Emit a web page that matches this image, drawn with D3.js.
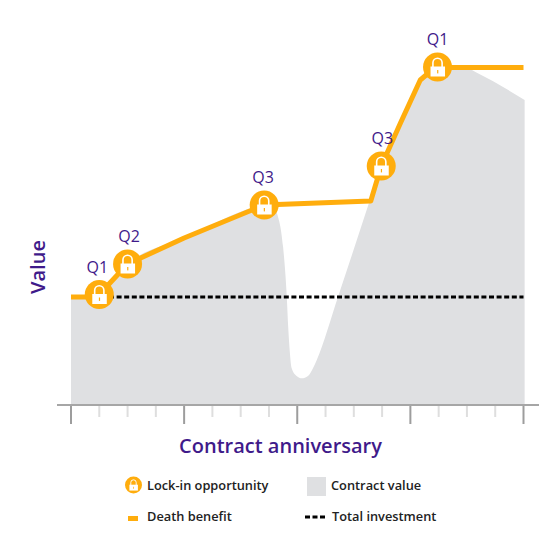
<!DOCTYPE html>
<html>
<head>
<meta charset="utf-8">
<script src="https://cdn.jsdelivr.net/npm/d3@7"></script>
<style>
    html, body { margin: 0; padding: 0; background: #fff; }
    text { font-family: "Open Sans", sans-serif; }
</style>
</head>
<body>
<div id="chart"></div>
<script>
'use strict';

var benefitQuarters = [0, 0.5, 1, 2, 4, 6.83, 10.6, 10.97, 11.65, 12.35, 12.6, 12.96, 16];
var benefitValues = [108, 108, 110.5, 141, 167, 200, 204, 239, 282, 325, 331, 337.5, 337.5];

var contractQuarters = [0, 0.5, 1, 2, 4, 6.83, 7.11, 7.28, 7.5, 7.63, 7.68, 7.74, 7.8, 7.98, 8.16, 8.38, 8.56, 8.69, 9.44, 10.57, 10.96, 11.65, 12.35, 12.6, 12.96, 14, 14.3, 16.04];
var contractValues = [108, 108, 110.5, 141, 167, 200, 201, 192, 158, 108, 78, 52, 37, 29, 26.7, 29, 37, 45, 108, 205, 239, 282, 325, 331, 337.5, 337, 333, 305];

var investmentQuarters = [0, 16];
var investmentValues = [108, 108];

var lockQuarters = [1, 2, 6.83, 10.97, 12.96];
var lockValues = [110.5, 141, 200, 239, 338];
var lockLabels = ['Q1', 'Q2', 'Q3', 'Q3', 'Q1'];

var axisTicks = d3.range(0, 17);

var ORANGE = '#ffad0d';
var GREY = '#dfe0e2';
var PURPLE = '#3f1a8a';
var INK = '#222222';

var x = d3.scaleLinear().domain([0, 16]).range([71, 523.5]);
var y = d3.scaleLinear().domain([0, 400]).range([405, 5]);

var svg = d3.select('#chart').append('svg')
    .attr('width', 560)
    .attr('height', 560)
    .style('display', 'block');

var area = d3.area()
    .x(function (d) { return x(d[0]); })
    .y0(y(0))
    .y1(function (d) { return y(d[1]); })
    .curve(d3.curveMonotoneX);

var line = d3.line()
    .x(function (d) { return x(d[0]); })
    .y(function (d) { return y(d[1]); });

svg.append('path')
    .attr('d', area(d3.zip(contractQuarters, contractValues)))
    .attr('fill', GREY);

svg.append('path')
    .attr('d', line(d3.zip(investmentQuarters, investmentValues)))
    .attr('fill', 'none')
    .attr('stroke', '#000')
    .attr('stroke-width', 3)
    .attr('stroke-dasharray', '5,2.6');

svg.append('path')
    .attr('d', line(d3.zip(benefitQuarters, benefitValues)))
    .attr('fill', 'none')
    .attr('stroke', ORANGE)
    .attr('stroke-width', 5)
    .attr('stroke-linejoin', 'round');

// axis: long ticks every 4 quarters, short pale ones between
var axis = svg.append('g').attr('transform', 'translate(0,' + y(0) + ')');

axis.selectAll('.tick-mark')
    .data(axisTicks)
    .enter()
    .append('line')
    .attr('class', 'tick-mark')
    .attr('x1', function (d) { return x(d); })
    .attr('x2', function (d) { return x(d); })
    .attr('y1', 0)
    .attr('y2', function (d) { return d % 4 === 0 ? 19 : 12; })
    .attr('stroke', function (d) { return d % 4 === 0 ? '#9d9d9d' : '#dedede'; })
    .attr('stroke-width', 2);

axis.append('line')
    .attr('x1', 57)
    .attr('x2', 539)
    .attr('stroke', '#a6a6a6')
    .attr('stroke-width', 2);

svg.append('text')
    .attr('x', 280.5)
    .attr('y', 453)
    .attr('text-anchor', 'middle')
    .attr('fill', PURPLE)
    .attr('font-size', 20)
    .attr('font-weight', 600)
    .text('Contract anniversary');

svg.append('text')
    .attr('transform', 'translate(45,267) rotate(-90)')
    .attr('text-anchor', 'middle')
    .attr('fill', PURPLE)
    .attr('font-size', 20)
    .attr('font-weight', 600)
    .text('Value');

// the labels sit a little off centre over their markers
var labelShift = [-2, 1.5, -1, 1, 0];

lockQuarters.forEach(function (q, i) {
    var px = x(q);
    var py = y(lockValues[i]);
    drawLock(px, py, 14.5);
    svg.append('text')
        .attr('x', px + labelShift[i])
        .attr('y', py - 22)
        .attr('text-anchor', 'middle')
        .attr('fill', PURPLE)
        .attr('font-size', 16)
        .text(lockLabels[i]);
});

// legend
drawLock(133.5, 485, 8.5);
legendText(147, 490, 'Lock-in opportunity');

svg.append('rect')
    .attr('x', 307)
    .attr('y', 477)
    .attr('width', 19)
    .attr('height', 19)
    .attr('fill', GREY);
legendText(331, 490, 'Contract value');

svg.append('rect')
    .attr('x', 128)
    .attr('y', 516)
    .attr('width', 10)
    .attr('height', 5)
    .attr('fill', ORANGE);
legendText(147, 521, 'Death benefit');

svg.append('line')
    .attr('x1', 305)
    .attr('x2', 325)
    .attr('y1', 517)
    .attr('y2', 517)
    .attr('stroke', '#000')
    .attr('stroke-width', 3)
    .attr('stroke-dasharray', '5,2.5');
legendText(332, 521, 'Total investment');

function legendText(px, py, label) {
    svg.append('text')
        .attr('x', px)
        .attr('y', py)
        .attr('fill', INK)
        .attr('font-size', 12.8)
        .attr('font-weight', 600)
        .text(label);
}

function drawLock(px, py, r) {
    var k = r / 14.5;
    var g = svg.append('g')
        .attr('transform', 'translate(' + px + ',' + py + ') scale(' + k + ')');

    g.append('circle')
        .attr('r', 14.5)
        .attr('fill', ORANGE);
    g.append('path')
        .attr('d', 'M-4.6,0V-4.2A4.6,4.6 0 0 1 4.6,-4.2V0')
        .attr('fill', 'none')
        .attr('stroke', '#fff')
        .attr('stroke-width', 1.6);
    g.append('rect')
        .attr('x', -7)
        .attr('y', -0.5)
        .attr('width', 14.5)
        .attr('height', 10)
        .attr('fill', '#fff');
    g.append('rect')
        .attr('x', -0.4)
        .attr('y', 3)
        .attr('width', 1.2)
        .attr('height', 3.4)
        .attr('fill', ORANGE);
}
</script>
</body>
</html>
